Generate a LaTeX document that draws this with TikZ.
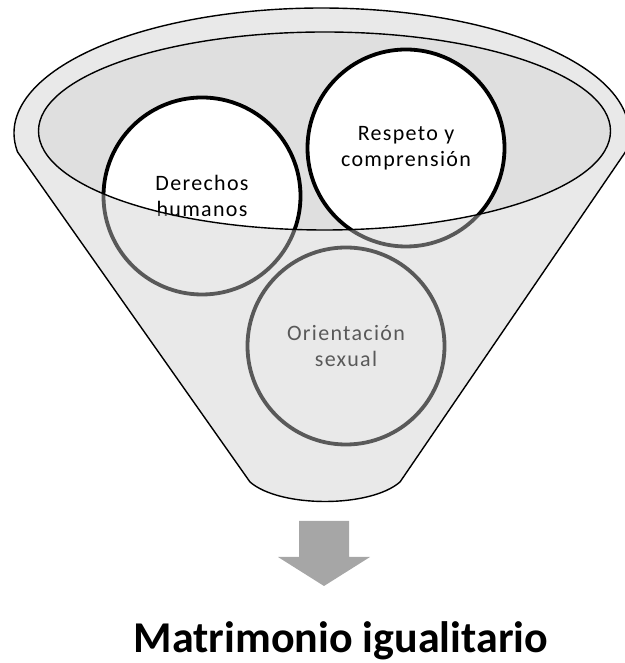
\documentclass[tikz,border=0pt]{standalone}
\usepackage{fontspec}
\setmainfont{Carlito}
\newfontfamily\circfont[LetterSpace=6]{Carlito}
\definecolor{funnelgray}{HTML}{E9E9E9}
\definecolor{innergray}{HTML}{DFDFDF}
\definecolor{ringgray}{HTML}{595959}
\definecolor{arrowgray}{HTML}{A6A6A6}
\begin{document}
\begin{tikzpicture}[x=1pt,y=1pt,
  bubble/.style={circle, minimum size=197pt, inner sep=0pt, line width=3.8pt, align=center, font=\circfont\fontsize{22}{26}\selectfont},
  frontbubble/.style={bubble, draw=black, fill=white, text=black},
  backbubble/.style={bubble, draw=ringgray, fill=funnelgray, text=ringgray},
  outline/.style={draw=black, line width=1.4pt}]
\useasboundingbox (0,0) rectangle (624,663);
% funnel body
\path[outline, fill=funnelgray, line join=round] (400,181) -- (625.4,511)
  arc[start angle=-8.74, end angle=188.74, x radius=307.5, y radius=125]
  -- (250,181) .. controls (280,155) and (370,155) .. (400,181) -- cycle;
% inner opening
\path[fill=innergray] (324.5,532) ellipse[x radius=286, y radius=99];
% circles, part above the front edge
\begin{scope}
\clip (-50,532) -- (38.5,532) arc[start angle=180, end angle=360, x radius=286, y radius=99]
  -- (700,532) -- (700,720) -- (-50,720) -- cycle;
\node[frontbubble] (dh) at (202,467) {Derechos\\humanos};
\node[frontbubble] (rc) at (406,515) {Respeto y\\comprensión};
\node[frontbubble] (os) at (346,317) {Orientación\\sexual};
\end{scope}
% circles, part seen through the front of the funnel
\begin{scope}
\clip (-50,532) -- (38.5,532) arc[start angle=180, end angle=360, x radius=286, y radius=99]
  -- (700,532) -- (700,-50) -- (-50,-50) -- cycle;
\node[backbubble] (dhb) at (202,467) {Derechos\\humanos};
\node[backbubble] (rcb) at (406,515) {Respeto y\\comprensión};
\node[backbubble] (osb) at (346,317) {Orientación\\sexual};
\end{scope}
% inner opening outline
\path[outline] (324.5,532) ellipse[x radius=286, y radius=99];
% arrow
\path[fill=arrowgray] (299,142) -- (349,142) -- (349,106) -- (370,106) -- (324,77)
  -- (278,106) -- (299,106) -- cycle;
% result
\node[font=\bfseries\fontsize{44}{50}\selectfont, anchor=base, inner sep=0pt] (title) at (341,10) {Matrimonio igualitario};
\end{tikzpicture}
\end{document}
